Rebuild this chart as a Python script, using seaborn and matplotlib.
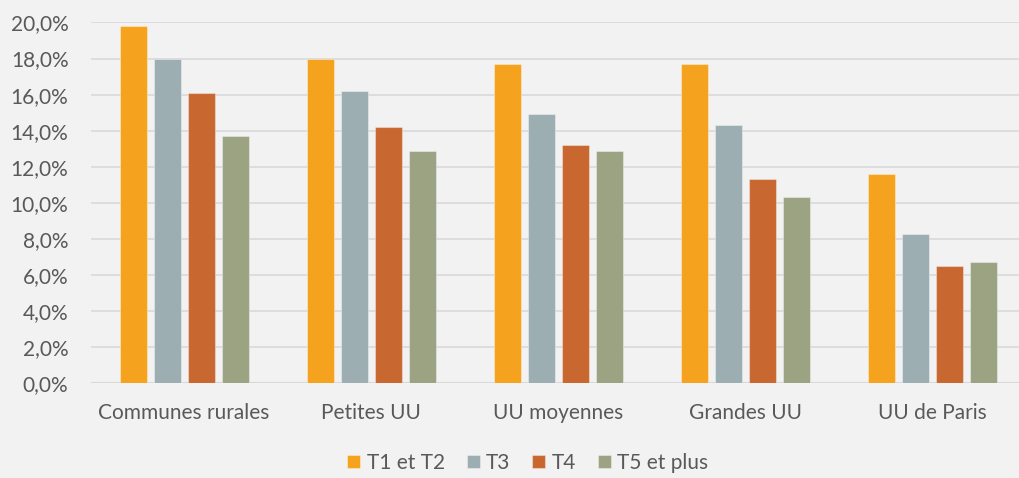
import pandas as pd
import seaborn as sns
import matplotlib.pyplot as plt
from matplotlib.ticker import FuncFormatter

# Categories, series and values
categories = ["Communes rurales", "Petites UU", "UU moyennes", "Grandes UU", "UU de Paris"]
series = ["T1 et T2", "T3", "T4", "T5 et plus"]
t1_t2 = [19.8, 18.0, 17.7, 17.7, 11.6]
t3 = [18.0, 16.2, 14.9, 14.3, 8.3]
t4 = [16.1, 14.2, 13.2, 11.3, 6.5]
t5_plus = [13.7, 12.9, 12.9, 10.3, 6.7]
colors = ["#F5A31E", "#9DAEB3", "#C8672F", "#9CA383"]

# long format for seaborn
rows = []
for name, vals in zip(series, [t1_t2, t3, t4, t5_plus]):
    for cat, v in zip(categories, vals):
        rows.append({"Zone": cat, "Type": name, "Part": v})
df = pd.DataFrame(rows)

sns.set_style("white")
plt.rcParams['font.family'] = ['Lato', 'DejaVu Sans']
text_color = "#595959"
bg = "#F2F2F2"

fig = plt.figure(figsize=(10.19, 4.78), dpi=100, facecolor=bg)
ax = fig.add_axes([0.089, 0.198, 0.9175, 0.755], facecolor=bg)

sns.barplot(data=df, x="Zone", y="Part", hue="Type", order=categories,
            hue_order=series, palette=colors, width=0.727, gap=0.2,
            saturation=1, edgecolor=(1, 1, 1, 0.35), linewidth=0.8, ax=ax)

ax.set_ylim(0, 20)
ax.set_yticks(range(0, 21, 2))
ax.yaxis.set_major_formatter(FuncFormatter(lambda v, p: f"{v:.1f}%".replace(".", ",")))
ax.grid(axis="y", color="#D9D9D9", linewidth=1.2)
ax.set_axisbelow(True)
for s in ax.spines.values():
    s.set_visible(False)
ax.axhline(0, color="#D9D9D9", linewidth=1.6, zorder=0.5)

ax.set_xlabel("")
ax.set_ylabel("")
ax.tick_params(axis="y", length=0, pad=16, labelsize=15, labelcolor=text_color)
ax.tick_params(axis="x", length=0, pad=14, labelsize=15, labelcolor=text_color)

sns.move_legend(ax, "center", bbox_to_anchor=(0.518, 0.032),
                bbox_transform=fig.transFigure, ncol=4, frameon=False,
                title=None, fontsize=15, handlelength=0.63, handleheight=0.63,
                handletextpad=0.3, columnspacing=1.05)
for t in ax.get_legend().get_texts():
    t.set_color(text_color)

fig.savefig("out.png", dpi=100, facecolor=bg)
